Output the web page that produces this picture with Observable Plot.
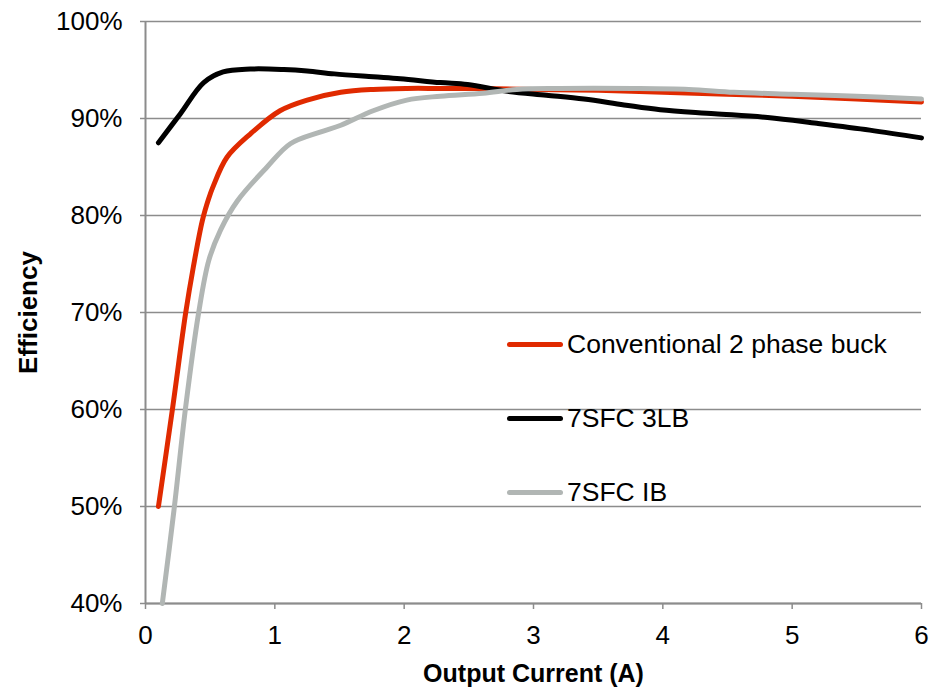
<!DOCTYPE html>
<html>
<head>
<meta charset="utf-8">
<script src="https://cdn.jsdelivr.net/npm/d3@7"></script>
<script src="https://cdn.jsdelivr.net/npm/@observablehq/plot@0.6"></script>
<style>
  html, body { margin: 0; padding: 0; background: #fff; }
  #wrap { position: relative; width: 943px; height: 691px; font-family: "Liberation Sans", Arial, sans-serif; }
  #wrap svg g[aria-label="x-axis label"] text, #wrap svg g[aria-label="y-axis label"] text { font-weight: bold; }
  .legend { position: absolute; left: 507px; top: 326px; font-size: 26.5px; color: #000; }
  .legend .item { display: flex; align-items: center; height: 36px; margin-bottom: 38px; white-space: nowrap; }
  .legend .sw { width: 56px; height: 5px; border-radius: 3px; margin-right: 4px; }
</style>
</head>
<body>
<div id="wrap"></div>
<script>
const seriesNames = ["Conventional 2 phase buck", "7SFC 3LB", "7SFC IB"];
const seriesColors = ["#e02a00", "#000000", "#b1b6b4"];

const convX = [0.10, 0.21, 0.31, 0.37, 0.44, 0.49, 0.52, 0.63, 0.81, 1.04, 1.25, 1.51, 1.76, 2.02, 2.28, 2.6, 3.0, 3.5, 4.0, 4.5, 5.0, 5.5, 6.0];
const convY = [50.0, 60.2, 69.9, 74.7, 79.5, 81.8, 82.9, 86.0, 88.4, 90.8, 91.9, 92.7, 93.0, 93.1, 93.1, 93.1, 93.0, 92.9, 92.7, 92.5, 92.3, 92.0, 91.7];

const lb3X = [0.10, 0.27, 0.45, 0.60, 0.81, 1.07, 1.25, 1.46, 1.76, 1.97, 2.28, 2.49, 2.80, 3.10, 3.39, 3.70, 3.98, 4.40, 4.81, 5.19, 5.60, 6.0];
const lb3Y = [87.5, 90.5, 93.7, 94.8, 95.1, 95.05, 94.9, 94.6, 94.3, 94.1, 93.7, 93.5, 92.8, 92.4, 92.0, 91.4, 90.9, 90.5, 90.1, 89.5, 88.8, 88.0];

const ibX = [0.13, 0.22, 0.31, 0.41, 0.49, 0.58, 0.71, 0.94, 1.12, 1.35, 1.51, 1.76, 2.02, 2.28, 2.61, 2.87, 3.2, 3.77, 4.2, 4.55, 5.0, 5.5, 6.0];
const ibY = [40.0, 49.6, 60.2, 69.9, 75.4, 78.5, 81.5, 85.0, 87.4, 88.6, 89.3, 90.8, 91.9, 92.3, 92.6, 93.0, 93.1, 93.1, 93.0, 92.7, 92.5, 92.3, 92.0];

const xTicks = [0, 1, 2, 3, 4, 5, 6];
const yTicks = [40, 50, 60, 70, 80, 90, 100];

const data = [
  ...convX.map((x, i) => ({x, y: convY[i], s: seriesNames[0]})),
  ...lb3X.map((x, i) => ({x, y: lb3Y[i], s: seriesNames[1]})),
  ...ibX.map((x, i) => ({x, y: ibY[i], s: seriesNames[2]}))
];

const chart = Plot.plot({
  width: 943,
  height: 691,
  marginLeft: 145,
  marginRight: 22,
  marginTop: 21,
  marginBottom: 88,
  style: { fontFamily: "Liberation Sans, Arial, sans-serif", fontSize: "26px", color: "#000", background: "#fff" },
  x: { domain: [0, 6] },
  y: { domain: [40, 100] },
  color: { domain: seriesNames, range: seriesColors },
  marks: [
    Plot.gridY(yTicks, { stroke: "#8c8c8c", strokeOpacity: 1, strokeWidth: 1.5 }),
    Plot.ruleX([0], { stroke: "#8c8c8c", strokeWidth: 2 }),
    Plot.ruleY([40], { stroke: "#8c8c8c", strokeWidth: 2 }),
    Plot.axisX(xTicks, { tickSize: 6, tickPadding: 16, stroke: "#8c8c8c", strokeWidth: 1.5, tickFormat: d => String(d), fill: "#000", fontSize: 26, label: null }),
    Plot.axisX({ ticks: [], tickSize: 0, label: "Output Current (A)", labelAnchor: "center", labelArrow: "none", labelOffset: 78, fill: "#000", fontSize: 25 }),
    Plot.axisY(yTicks, { tickSize: 5, tickPadding: 18, stroke: "#8c8c8c", strokeWidth: 1.5, tickFormat: d => d + "%", label: "Efficiency", labelAnchor: "center", labelArrow: "none", labelOffset: 127, fill: "#000", fontSize: 26 }),
    Plot.line(data, { x: "x", y: "y", z: "s", stroke: "s", strokeWidth: 5, curve: "catmull-rom", strokeLinecap: "round", strokeLinejoin: "round" })
  ]
});

const wrap = document.getElementById("wrap");
wrap.appendChild(chart);

const legend = document.createElement("div");
legend.className = "legend";
seriesNames.forEach((n, i) => {
  const item = document.createElement("div");
  item.className = "item";
  const sw = document.createElement("span");
  sw.className = "sw";
  sw.style.background = seriesColors[i];
  const t = document.createElement("span");
  t.textContent = n;
  item.appendChild(sw);
  item.appendChild(t);
  legend.appendChild(item);
});
wrap.appendChild(legend);
</script>
</body>
</html>
